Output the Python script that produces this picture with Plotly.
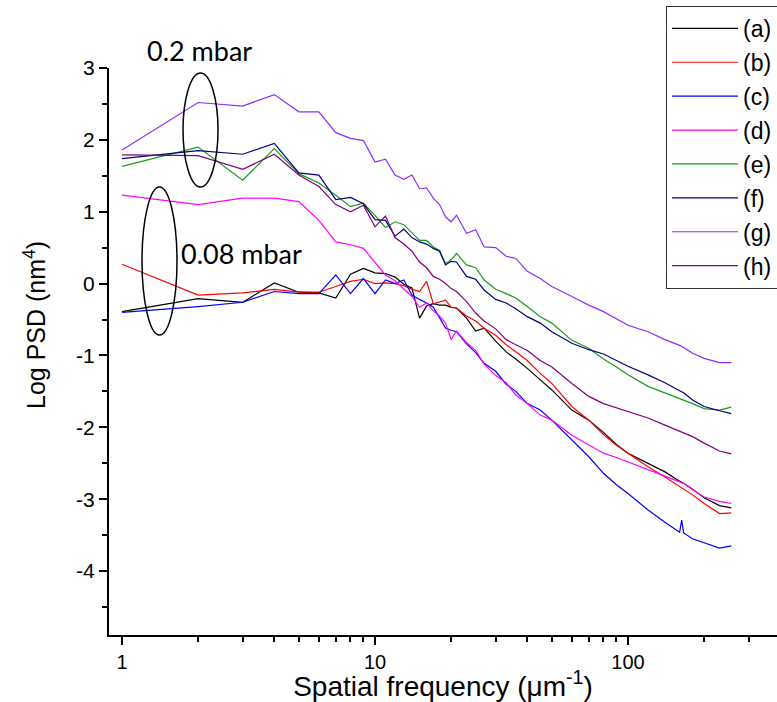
import plotly.graph_objects as go

# Spatial frequency (um^-1)
freq = [1, 2, 3, 4, 5, 6, 7, 8, 9, 10, 11, 12, 13, 14, 15, 16, 17, 18, 19, 20,
        21, 23, 25, 27, 30, 33, 36, 40, 45, 50, 60, 70, 80, 90, 100, 120, 140,
        160, 163, 166, 180, 200, 230, 256]

# Log PSD (nm^4)
psd_a = [-0.39, -0.21, -0.26, 0.01, -0.12, -0.13, -0.20, 0.13, 0.21, 0.15, 0.14, 0.09, -0.01, -0.06, -0.48, -0.31, -0.28, -0.30, -0.30, -0.33,
         -0.34, -0.48, -0.66, -0.62, -0.80, -0.95, -1.05, -1.18, -1.34, -1.48, -1.76, -1.90, -2.07, -2.24, -2.36, -2.50, -2.62,
         -2.75, -2.77, -2.78, -2.86, -2.98, -3.09, -3.12]
psd_b = [0.27, -0.16, -0.13, -0.08, -0.12, -0.12, -0.04, 0.03, 0.06, 0.00, 0.01, 0.00, -0.03, -0.08, -0.11, 0.03, -0.28, -0.25, -0.23, -0.33,
         -0.34, -0.45, -0.52, -0.62, -0.72, -0.85, -0.95, -1.07, -1.25, -1.39, -1.71, -1.90, -2.10, -2.25, -2.36, -2.55, -2.69,
         -2.82, -2.84, -2.85, -2.94, -3.06, -3.20, -3.19]
psd_c = [-0.40, -0.32, -0.26, -0.11, -0.14, -0.14, 0.12, -0.14, 0.07, -0.14, 0.05, 0.00, 0.05, -0.16, -0.22, -0.27, -0.33, -0.48, -0.62, -0.65,
         -0.67, -0.84, -0.96, -1.11, -1.22, -1.40, -1.50, -1.67, -1.76, -1.90, -2.18, -2.41, -2.64, -2.80, -2.92, -3.15, -3.32,
         -3.46, -3.29, -3.47, -3.55, -3.61, -3.68, -3.65]
psd_d = [1.23, 1.10, 1.19, 1.19, 1.14, 0.88, 0.58, 0.54, 0.49, 0.30, 0.12, 0.04, -0.08, -0.18, -0.33, -0.27, -0.38, -0.45, -0.55, -0.78,
         -0.66, -0.82, -0.93, -1.12, -1.28, -1.38, -1.55, -1.67, -1.83, -1.90, -2.11, -2.25, -2.36, -2.42, -2.48, -2.59, -2.68,
         -2.76, -2.77, -2.78, -2.87, -2.97, -3.03, -3.06]
psd_e = [1.63, 1.90, 1.44, 1.88, 1.53, 1.40, 1.23, 1.07, 1.12, 0.95, 0.78, 0.86, 0.82, 0.70, 0.60, 0.60, 0.51, 0.46, 0.28, 0.33,
         0.42, 0.26, 0.22, 0.05, -0.08, -0.14, -0.20, -0.32, -0.46, -0.55, -0.79, -0.90, -1.05, -1.16, -1.27, -1.43, -1.52,
         -1.60, -1.61, -1.62, -1.67, -1.74, -1.76, -1.72]
psd_f = [1.74, 1.85, 1.80, 1.95, 1.54, 1.51, 1.17, 1.20, 1.11, 0.89, 0.88, 0.66, 0.76, 0.64, 0.58, 0.55, 0.49, 0.45, 0.26, 0.31,
         0.30, 0.10, 0.06, -0.09, -0.22, -0.27, -0.35, -0.46, -0.55, -0.67, -0.83, -0.92, -0.98, -1.07, -1.15, -1.27, -1.38,
         -1.49, -1.50, -1.52, -1.62, -1.71, -1.77, -1.81]
psd_g = [1.86, 2.52, 2.47, 2.63, 2.39, 2.39, 2.10, 2.02, 1.99, 1.69, 1.73, 1.51, 1.45, 1.51, 1.32, 1.33, 1.19, 1.10, 0.93, 0.86,
         0.95, 0.70, 0.75, 0.51, 0.50, 0.38, 0.35, 0.17, 0.07, -0.04, -0.18, -0.30, -0.39, -0.49, -0.58, -0.67, -0.78,
         -0.86, -0.87, -0.89, -0.97, -1.04, -1.10, -1.10]
psd_h = [1.79, 1.78, 1.59, 1.80, 1.51, 1.35, 1.10, 1.00, 1.09, 0.79, 0.94, 0.64, 0.55, 0.45, 0.30, 0.22, 0.10, 0.06, 0.00, -0.07,
         -0.11, -0.25, -0.41, -0.52, -0.63, -0.78, -0.85, -0.93, -1.07, -1.16, -1.39, -1.57, -1.67, -1.73, -1.78, -1.87, -1.97,
         -2.06, -2.07, -2.08, -2.13, -2.22, -2.33, -2.37]

labels = ["(a)", "(b)", "(c)", "(d)", "(e)", "(f)", "(g)", "(h)"]
series = [psd_a, psd_b, psd_c, psd_d, psd_e, psd_f, psd_g, psd_h]
colors = ["#000000", "#ff0000", "#0000ff", "#ff00ff", "#1a9a1a", "#000080", "#8f2bff", "#800080"]

x_ticks = [1, 10, 100]
x_minor = [2, 3, 4, 5, 6, 7, 8, 9, 20, 30, 40, 50, 60, 70, 80, 90, 200, 300]
y_ticks = [-4, -3, -2, -1, 0, 1, 2, 3]

fig = go.Figure()
for i, (lab, ys, col) in enumerate(zip(labels, series, colors)):
    fig.add_trace(go.Scatter(x=freq, y=ys, mode="lines", name=lab,
                             legendgroup="grp%d" % i, legendrank=i + 1,
                             line=dict(color=col, width=1.2)))

font_main = "Liberation Sans, Arial, sans-serif"
font_note = "Lato, Carlito, sans-serif"

fig.update_layout(
    width=777, height=702,
    margin=dict(l=109, r=0, t=68, b=67, autoexpand=False),
    paper_bgcolor="white", plot_bgcolor="white",
    showlegend=True,
    legend=dict(x=0.8338, y=1.1095, xanchor="left", yanchor="top",
                bordercolor="#333333", borderwidth=1, bgcolor="white",
                font=dict(family=font_main, size=23, color="black"),
                traceorder="grouped", tracegroupgap=1, itemwidth=66),
    xaxis=dict(type="log", range=[-0.0514, 2.589],
               tickmode="array", tickvals=x_ticks, ticktext=[str(v) for v in x_ticks],
               ticks="outside", ticklen=8, tickwidth=1.5, tickcolor="black",
               minor=dict(tickmode="array", tickvals=x_minor, ticks="outside", ticklen=5,
                          tickwidth=1.5, tickcolor="black", showgrid=False),
               showline=True, linecolor="black", linewidth=2, showgrid=False, zeroline=False,
               tickfont=dict(family=font_main, size=20, color="black"),
               title=dict(text="Spatial frequency (\u03bcm<sup>-1</sup>)", standoff=15,
                          font=dict(family=font_main, size=28, color="black"))),
    yaxis=dict(range=[-4.89, 3],
               tickmode="array", tickvals=y_ticks, ticktext=[str(v) for v in y_ticks],
               ticks="outside", ticklen=8, tickwidth=1.5, tickcolor="black",
               minor=dict(dtick=0.5, tick0=0, ticks="outside", ticklen=5,
                          tickwidth=1.5, tickcolor="black", showgrid=False),
               showline=True, linecolor="black", linewidth=2, showgrid=False, zeroline=False,
               tickfont=dict(family=font_main, size=21, color="black")),
)

# y-axis title (rotated text placed as in the reference)
fig.add_annotation(text="Log PSD (nm<sup>4</sup>)", xref="paper", yref="paper",
                   x=-0.1108, y=0.5467, xanchor="center", yanchor="middle", textangle=-90,
                   showarrow=False, font=dict(family=font_main, size=25, color="black"))

fig.add_shape(type="circle", xref="paper", yref="paper",
              x0=0.1108, x1=0.1632, y0=0.7901, y1=0.9912,
              line=dict(color="black", width=1.5))
fig.add_shape(type="circle", xref="paper", yref="paper",
              x0=0.0494, x1=0.1018, y0=0.5291, y1=0.7901,
              line=dict(color="black", width=1.5))
fig.add_annotation(text="0.2 mbar", xref="paper", yref="paper", x=0.1362, y=1.0317,
                   xanchor="center", yanchor="middle",
                   showarrow=False, font=dict(family=font_note, size=27, color="black"))
fig.add_annotation(text="0.08 mbar", xref="paper", yref="paper", x=0.199, y=0.6737,
                   xanchor="center", yanchor="middle",
                   showarrow=False, font=dict(family=font_note, size=27, color="black"))

fig.write_html("out.html")
